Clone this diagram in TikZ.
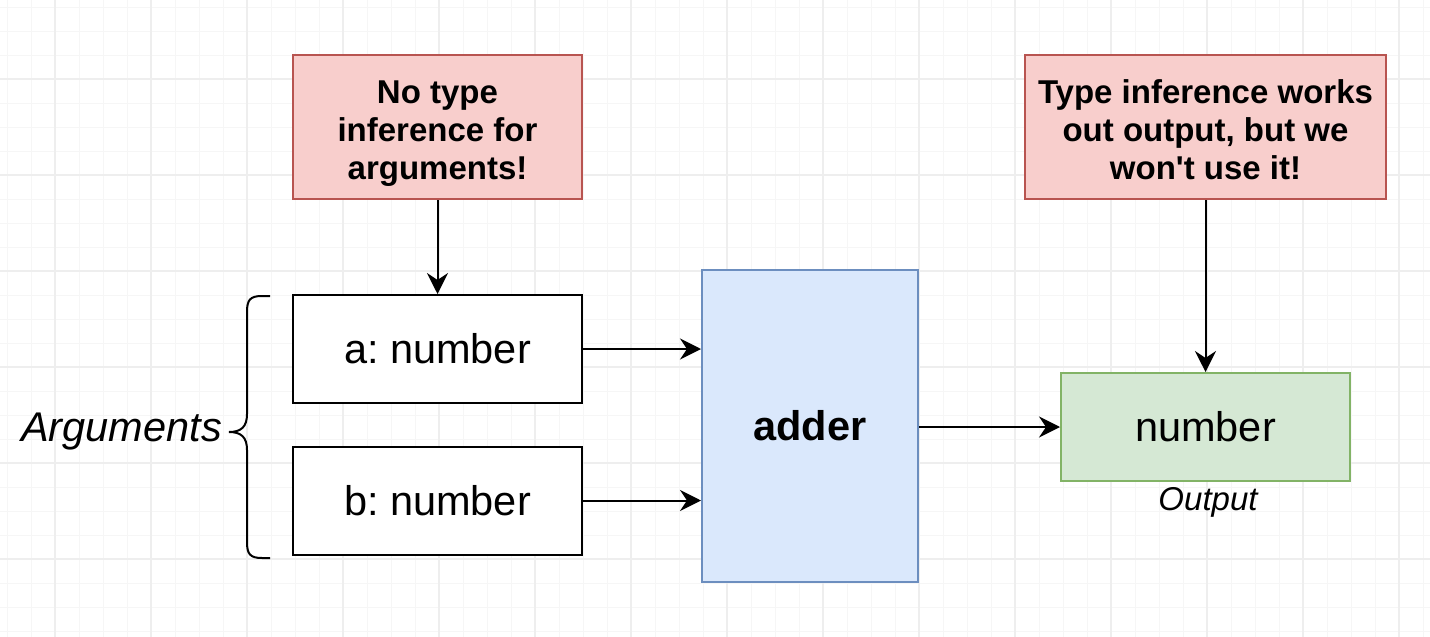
\documentclass[tikz,border=0pt]{standalone}
\usepackage{fontspec}
\setmainfont{Liberation Sans}
\usetikzlibrary{arrows.meta}
\definecolor{notefill}{HTML}{F8CECC}
\definecolor{noteline}{HTML}{B85450}
\definecolor{fnfill}{HTML}{DAE8FC}
\definecolor{fnline}{HTML}{6C8EBF}
\definecolor{resfill}{HTML}{D5E8D4}
\definecolor{resline}{HTML}{82B366}
\definecolor{gridlo}{HTML}{F6F6F6}
\definecolor{gridhi}{HTML}{EEEEEE}
\newcommand{\lblsize}{\fontsize{41.5}{48}\selectfont}
\newcommand{\notesize}{\fontsize{33}{38}\selectfont}
\frenchspacing

\begin{document}
\begin{tikzpicture}[
    x=1pt, y=-1pt,
    note/.style={draw=noteline, fill=notefill, line width=2pt, minimum height=144pt},
    notetext/.style={align=center, font=\notesize\bfseries, yshift=-7pt},
    arg/.style={draw=black, fill=white, line width=2pt, font=\lblsize,
      minimum width=289pt, minimum height=108pt},
    fn/.style={draw=fnline, fill=fnfill, line width=2pt, font=\lblsize\bfseries,
      minimum width=216pt, minimum height=312pt},
    res/.style={draw=resline, fill=resfill, line width=2pt, font=\lblsize,
      minimum width=289pt, minimum height=108pt},
    link/.style={line width=2pt, -{Stealth[length=21pt, width=21pt, inset=7pt]}}
    ]
    \useasboundingbox (0,0) rectangle (1430,637);
    \fill[white] (0,0) rectangle (1430,637);
    \foreach \i in {7,31,...,1430} \draw[gridlo, line width=1pt] (\i,0) -- (\i,637);
    \foreach \i in {7,31,...,637} \draw[gridlo, line width=1pt] (0,\i) -- (1430,\i);
    \foreach \i in {55,151,...,1430} \draw[gridhi, line width=1.2pt] (\i,0) -- (\i,637);
    \foreach \i in {79,175,...,637} \draw[gridhi, line width=1.2pt] (0,\i) -- (1430,\i);

    \node[note, minimum width=289pt] (nohint) at (437.5,127) {};
    \node[notetext] (nohinttext) at (nohint.center) {\strut No type\\\strut inference for\\\strut arguments!};
    \node[note, minimum width=361pt] (hint) at (1205.5,127) {};
    \node[notetext] (hinttext) at (hint.center) {\strut Type inference works\\\strut out output, but we\\\strut won\textquotesingle t use it!};
    \node[arg] (a) at (437.5,349) {a: number};
    \node[arg] (b) at (437.5,500.5) {b: number};
    \node[fn] (adder) at (810,426) {adder};
    \node[res] (out) at (1205.5,427) {number};
    \node[font=\notesize\itshape] (outlbl) at (1208,502) {Output};
    \node[font=\lblsize\itshape, anchor=east, inner sep=0pt] (args) at (222,432) {Arguments};

    \draw[line width=2pt] (270,296) -- (262,296) .. controls (250,296) and (247,300) .. (247,312)
      -- (247,414) .. controls (247,427) and (241,432) .. (229,432)
      .. controls (241,432) and (247,437) .. (247,450)
      -- (247,542) .. controls (247,554) and (250,558) .. (262,558) -- (270,558);

    \draw[link] (nohint) -- (a);
    \draw[link] (hint) -- (out);
    \draw[link] (a.east) -- (a.east -| adder.west);
    \draw[link] (b.east) -- (b.east -| adder.west);
    \draw[link] (adder.east |- out.west) -- (out.west);
  \end{tikzpicture}
\end{document}
